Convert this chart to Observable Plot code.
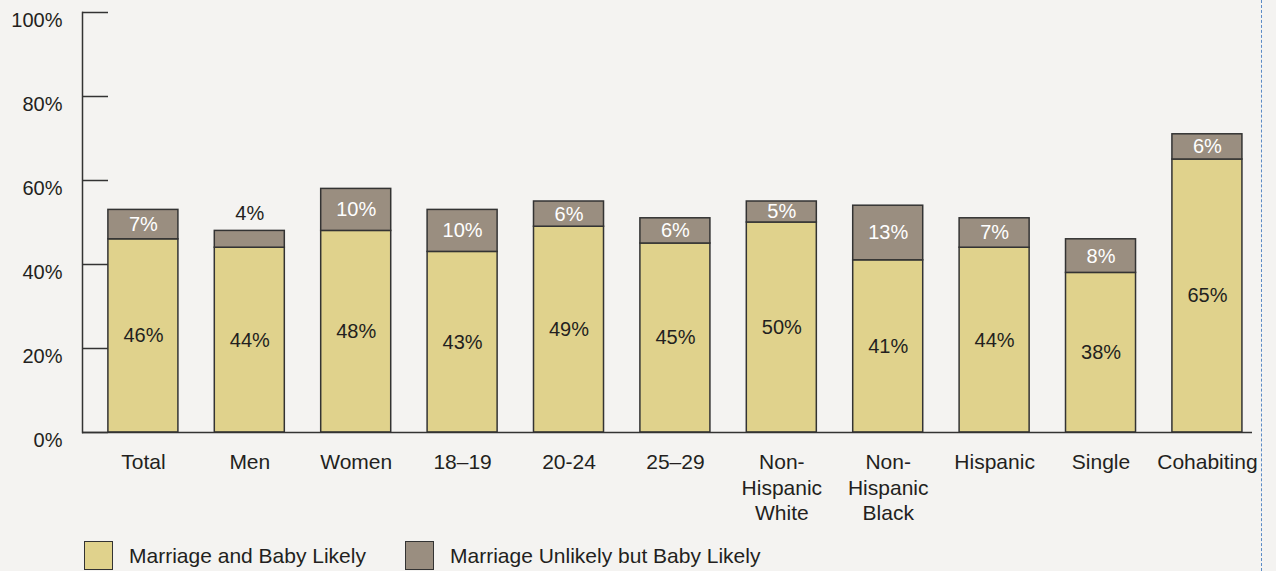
<!DOCTYPE html>
<html>
<head>
<meta charset="utf-8">
<script src="https://cdn.jsdelivr.net/npm/d3@7"></script>
<script src="https://cdn.jsdelivr.net/npm/@observablehq/plot@0.6"></script>
<style>
  html, body { margin: 0; padding: 0; background: #f4f3f1; }
  body { width: 1276px; height: 571px; position: relative; overflow: hidden; font-family: "Liberation Sans", Arial, sans-serif; color: #231f20; }
  #chart svg { display: block; }
  .legend { position: absolute; left: 84px; top: 541px; display: flex; align-items: center; font-size: 21px; }
  .item { display: flex; align-items: center; margin-right: 39px; }
  .sw { width: 27px; height: 27px; border: 1.5px solid #333; margin-right: 16px; }
  .dash { position: absolute; left: 1261px; top: 0; height: 571px; border-left: 1.5px dashed #5b8bc6; }
</style>
</head>
<body>
<div id="chart"></div>
<div class="legend">
  <div class="item"><div class="sw" style="background:#e0d28c"></div><span id="l0"></span></div>
  <div class="item"><div class="sw" style="background:#9a8e80"></div><span id="l1"></span></div>
</div>
<div class="dash"></div>
<script>
const categories = ["Total", "Men", "Women", "18\u201319", "20-24", "25\u201329", "Non-\nHispanic\nWhite", "Non-\nHispanic\nBlack", "Hispanic", "Single", "Cohabiting"];
const marriageAndBaby = [46, 44, 48, 43, 49, 45, 50, 41, 44, 38, 65];
const unlikelyButBaby = [7, 4, 10, 10, 6, 6, 5, 13, 7, 8, 6];
const seriesNames = ["Marriage and Baby Likely", "Marriage Unlikely but Baby Likely"];
const seriesColors = ["#e0d28c", "#9a8e80"];
const yTicks = [0, 20, 40, 60, 80, 100];

document.getElementById("l0").textContent = seriesNames[0];
document.getElementById("l1").textContent = seriesNames[1];

const rows = [];
categories.forEach((c, i) => {
  rows.push({cat: c, series: seriesNames[0], lo: 0, hi: marriageAndBaby[i], v: marriageAndBaby[i]});
  rows.push({cat: c, series: seriesNames[1], lo: marriageAndBaby[i], hi: marriageAndBaby[i] + unlikelyButBaby[i], v: unlikelyButBaby[i]});
});
const bottom = rows.filter(d => d.series === seriesNames[0]);
const topIn = rows.filter(d => d.series === seriesNames[1] && d.v >= 5);
const topOut = rows.filter(d => d.series === seriesNames[1] && d.v < 5);

const plot = Plot.plot({
  width: 1276,
  height: 530,
  marginTop: 12,
  marginBottom: 98,
  marginLeft: 82,
  marginRight: 24,
  style: {fontFamily: "'Liberation Sans', Arial, sans-serif", background: "transparent", color: "#231f20"},
  x: {domain: categories, paddingInner: 0.342, paddingOuter: 0.169, align: 0.72, round: false, axis: null},
  y: {domain: [0, 100], axis: null},
  color: {domain: seriesNames, range: seriesColors},
  marks: [
    Plot.barY(rows, {x: "cat", y1: "lo", y2: "hi", fill: "series", stroke: "#333", strokeWidth: 1.5}),
    Plot.text(bottom, {x: "cat", y: d => (d.lo + d.hi) / 2, text: d => d.v + "%", fontSize: 20, fill: "#231f20"}),
    Plot.text(topIn, {x: "cat", y: d => (d.lo + d.hi) / 2, text: d => d.v + "%", fontSize: 20, fill: "#ffffff"}),
    Plot.text(topOut, {x: "cat", y: "hi", dy: -17, text: d => d.v + "%", fontSize: 20, fill: "#231f20"}),
    Plot.ruleY([0], {stroke: "#333", strokeWidth: 1.5}),
    Plot.ruleY(yTicks, {stroke: "#333", strokeWidth: 1.5, insetRight: 1170 - 26}),
    Plot.frame({anchor: "left", stroke: "#333", strokeWidth: 1.5}),
    Plot.axisY(yTicks, {tickSize: 0, tickPadding: 20, dy: 8, fontSize: 20, tickFormat: d => d + "%", fill: "#231f20"}),
    Plot.text(categories, {x: d => d, y: 0, text: d => d, dy: 19, lineAnchor: "top", lineHeight: 1.2, fontSize: 21, fill: "#231f20"})
  ]
});
document.getElementById("chart").appendChild(plot);
</script>
</body>
</html>
